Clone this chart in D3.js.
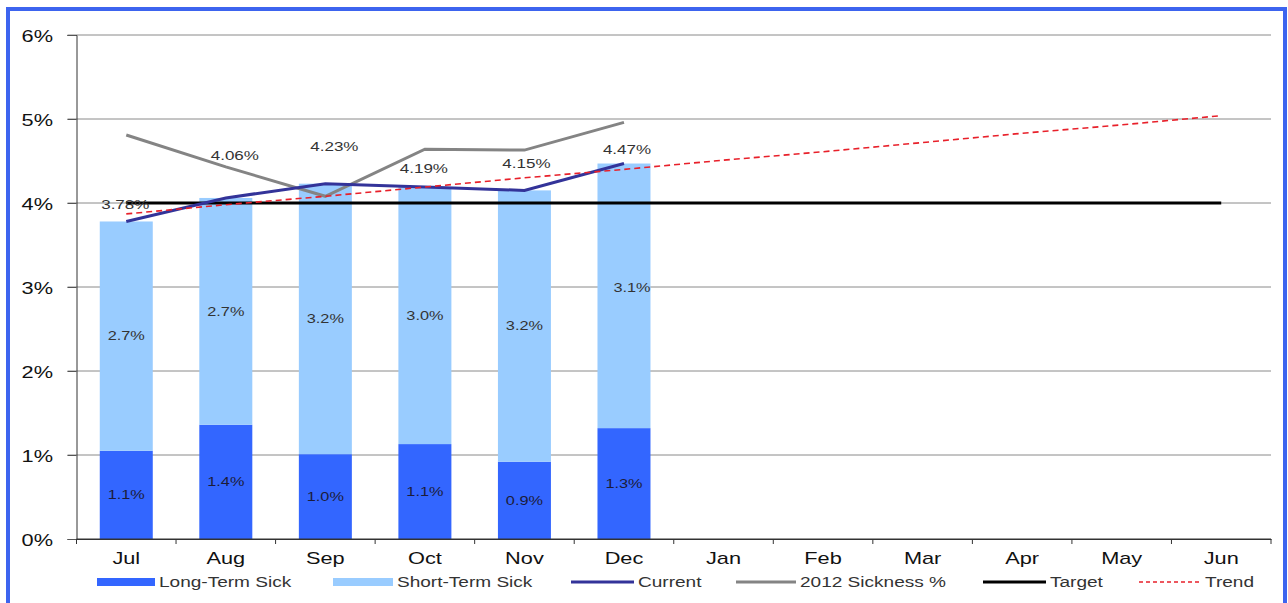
<!DOCTYPE html>
<html>
<head>
<meta charset="utf-8">
<script src="https://cdn.jsdelivr.net/npm/d3@7"></script>
<style>
  html, body { margin: 0; padding: 0; background: #fff; }
  svg { display: block; font-family: "Liberation Sans", Arial, sans-serif; }
</style>
</head>
<body>
<svg id="chart" width="1288" height="603"></svg>
<script>
// ---- Data ----
const months = ["Jul","Aug","Sep","Oct","Nov","Dec","Jan","Feb","Mar","Apr","May","Jun"];
const longTerm = [1.05, 1.36, 1.01, 1.13, 0.92, 1.32];
const shortTerm = [2.73, 2.70, 3.22, 3.06, 3.23, 3.15];
const currentVals = [3.78, 4.06, 4.23, 4.19, 4.15, 4.47];
const sickness2012 = [4.81, 4.43, 4.08, 4.64, 4.63, 4.96];
const targetVals = [4, 4, 4, 4, 4, 4, 4, 4, 4, 4, 4, 4];
const trendVals = [3.87, 3.98, 4.08, 4.19, 4.30, 4.40, 4.51, 4.61, 4.72, 4.83, 4.93, 5.04];
const totalLabels = ["3.78%", "4.06%", "4.23%", "4.19%", "4.15%", "4.47%"];
const longLabels = ["1.1%", "1.4%", "1.0%", "1.1%", "0.9%", "1.3%"];
const shortLabels = ["2.7%", "2.7%", "3.2%", "3.0%", "3.2%", "3.1%"];
const yTicks = [0, 1, 2, 3, 4, 5, 6];
const legendNames = ["Long-Term Sick", "Short-Term Sick", "Current", "2012 Sickness %", "Target", "Trend"];

// ---- Layout ----
const svg = d3.select("#chart");
const L = 76.5, R = 1271, T = 35, B = 539;
const SX = 1.36; // horizontal stretch of the original's text
const xc = d3.scaleBand().domain(months).range([L, R]);
const cx = m => xc(m) + xc.bandwidth() / 2;
const barW = 53;
const y = d3.scaleLinear().domain([0, 6]).range([B, T]);

function stretchedText(sel, px, py, anchor) {
  // sel: selection of text elements bound to data; px/py functions
  sel.attr("text-anchor", anchor || "middle")
     .attr("transform", (d, i) => `translate(${px(d, i)},${py(d, i)}) scale(${SX},1)`);
  return sel;
}

// border
svg.append("rect").attr("x", 8).attr("y", 9).attr("width", 1277).attr("height", 600)
  .attr("fill", "#fff").attr("stroke", "#3d64ef").attr("stroke-width", 4);

// gridlines
svg.append("g").selectAll("line").data(yTicks.filter(d => d > 0)).join("line")
  .attr("x1", L - 9).attr("x2", R).attr("y1", d => y(d)).attr("y2", d => y(d))
  .attr("stroke", "#8a8a8a").attr("stroke-width", 1);

// y axis
const yAxis = d3.axisLeft(y).tickValues(yTicks).tickFormat(d => d + "%").tickSize(9);
const gy = svg.append("g").attr("transform", `translate(${L},0)`).call(yAxis);
gy.select(".domain").attr("stroke", "#333");
gy.selectAll(".tick line").attr("stroke", "#555");
gy.selectAll(".tick text").attr("font-size", 16).attr("fill", "#111").attr("dy", null)
  .attr("text-anchor", "end").attr("x", null).attr("y", null)
  .attr("transform", `translate(${53 - L},6) scale(${SX},1)`);

// x axis
const xAxis = d3.axisBottom(xc).tickSize(0).tickPadding(12);
const gx = svg.append("g").attr("transform", `translate(0,${B})`).call(xAxis);
gx.select(".domain").attr("stroke", "#333");
gx.selectAll(".tick text").attr("font-size", 16).attr("fill", "#111").attr("dy", null)
  .attr("y", null).attr("transform", `translate(0,25) scale(${SX},1)`);
// band boundary ticks
svg.append("g").selectAll("line").data(months.map(m => xc(m)).concat([R])).join("line")
  .attr("x1", d => d).attr("x2", d => d).attr("y1", B).attr("y2", B + 5)
  .attr("stroke", "#333");

// stacked bars
const barData = longTerm.map((v, i) => ({ m: months[i], lt: v, st: shortTerm[i] }));
svg.append("g").selectAll("rect").data(barData).join("rect")
  .attr("x", d => cx(d.m) - barW / 2).attr("width", barW)
  .attr("y", d => y(d.lt)).attr("height", d => y(0) - y(d.lt))
  .attr("fill", "#3366ff");
svg.append("g").selectAll("rect").data(barData).join("rect")
  .attr("x", d => cx(d.m) - barW / 2).attr("width", barW)
  .attr("y", d => y(d.lt + d.st)).attr("height", d => y(d.lt) - y(d.lt + d.st))
  .attr("fill", "#99ccff");

svg.append("line").attr("x1", L).attr("x2", R).attr("y1", B).attr("y2", B).attr("stroke", "#333");

// segment labels
stretchedText(
  svg.append("g").selectAll("text").data(barData).join("text")
    .attr("dy", "0.35em").attr("font-size", 12).attr("fill", "#1c1c3a")
    .text((d, i) => longLabels[i]),
  d => cx(d.m), d => y(d.lt / 2));
const shortDx = [0, 0, 0, 0, 0, 8];
const shortDy = [0, 0, 0, 0, 0, -8];
stretchedText(
  svg.append("g").selectAll("text").data(barData).join("text")
    .attr("dy", "0.35em").attr("font-size", 12).attr("fill", "#333")
    .text((d, i) => shortLabels[i]),
  (d, i) => cx(d.m) + shortDx[i], (d, i) => y(d.lt + d.st / 2) + shortDy[i]);

// lines
const line = d3.line().x(d => cx(d.m)).y(d => y(d.v));
const series = vals => vals.map((v, i) => ({ m: months[i], v }));

svg.append("path").datum(series(sickness2012))
  .attr("d", line).attr("fill", "none").attr("stroke", "#848484").attr("stroke-width", 3);
svg.append("path").datum(series(targetVals))
  .attr("d", line).attr("fill", "none").attr("stroke", "#000").attr("stroke-width", 3);
svg.append("path").datum(series(currentVals))
  .attr("d", line).attr("fill", "none").attr("stroke", "#333399").attr("stroke-width", 3);
svg.append("path").datum(series(trendVals))
  .attr("d", line).attr("fill", "none").attr("stroke", "#e8202a").attr("stroke-width", 1.6)
  .attr("stroke-dasharray", "6,4");

// total labels (Excel placed them irregularly; pixel nudges)
const totalDx = [-1, 9, 9, -1, 2, 3];
const totalDy = [-17, -42, -37, -18, -27, -14];
stretchedText(
  svg.append("g").selectAll("text").data(currentVals).join("text")
    .attr("dy", "0.35em").attr("font-size", 12.5).attr("fill", "#333")
    .text((d, i) => totalLabels[i]),
  (d, i) => cx(months[i]) + totalDx[i], (d, i) => y(d) + totalDy[i]);

// legend
const lg = svg.append("g").attr("font-size", 14).attr("fill", "#333");
const legendX = [97, 333, 571, 736, 983, 1139];
const legendW = [58, 60, 63, 60, 63, 62];
const legendY = 582;
legendNames.forEach((name, i) => {
  const g = lg.append("g").attr("transform", `translate(${legendX[i]},${legendY})`);
  if (i < 2) {
    g.append("rect").attr("x", 0).attr("y", -4).attr("width", legendW[i]).attr("height", 8)
      .attr("fill", i === 0 ? "#3366ff" : "#99ccff");
  } else if (i === 5) {
    g.append("line").attr("x1", 0).attr("x2", legendW[i]).attr("y1", 0).attr("y2", 0)
      .attr("stroke", "#e8202a").attr("stroke-width", 1.6).attr("stroke-dasharray", "4,3");
  } else {
    const c = i === 2 ? "#333399" : i === 3 ? "#848484" : "#000";
    g.append("line").attr("x1", 0).attr("x2", legendW[i]).attr("y1", 0).attr("y2", 0)
      .attr("stroke", c).attr("stroke-width", 3);
  }
  g.append("text").attr("dy", "0.35em")
    .attr("transform", `translate(${legendW[i] + 4},0) scale(${SX},1)`).text(name);
});
</script>
</body>
</html>
